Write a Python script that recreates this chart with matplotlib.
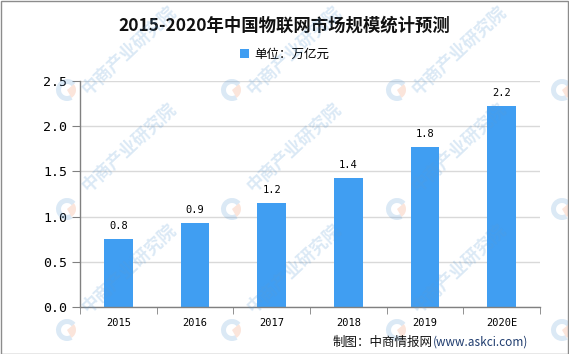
import matplotlib
matplotlib.use("Agg")
import matplotlib.pyplot as plt
from matplotlib.patches import Wedge, Rectangle

plt.rcParams['font.family'] = ['Noto Sans CJK SC', 'DejaVu Sans']

categories = ['2015', '2016', '2017', '2018', '2019', '2020E']
values = [0.75, 0.93, 1.15, 1.43, 1.77, 2.22]
labels = ['0.8', '0.9', '1.2', '1.4', '1.8', '2.2']
yticks = [0.0, 0.5, 1.0, 1.5, 2.0, 2.5]

title = '2015-2020年中国物联网市场规模统计预测'
legend_label = '单位：万亿元'
source_cn = '制图：中商情报网'
source_url = '(www.askci.com)'
watermark = '中商产业研究院'

W, H = 569, 354
fig = plt.figure(figsize=(W / 100, H / 100), dpi=100)
fig.patch.set_facecolor('white')

ax = fig.add_axes([80 / W, (H - 307) / H, (540 - 80) / W, (307 - 81) / H])
x = list(range(len(categories)))
bar_color = '#409EF2'
ax.bar(x, values, width=0.375, color=bar_color, zorder=3, label=legend_label)
ax.set_xlim(-0.5, len(categories) - 0.5)
ax.set_ylim(0, 2.5)
ax.set_yticks(yticks)
ax.set_yticklabels([f'{v:.1f}' for v in yticks], family='DejaVu Sans Mono', fontsize=9.5)
ax.set_xticks(x)
ax.set_xticklabels(categories, family='DejaVu Sans Mono', fontsize=7.5)
ax.set_xticks([i - 0.5 for i in range(len(categories) + 1)], minor=True)
ax.tick_params(axis='x', which='major', length=0, pad=8)
ax.tick_params(axis='x', which='minor', length=5, color='#808080', direction='out')
ax.tick_params(axis='y', length=6, color='#808080', pad=3)
ax.yaxis.grid(True, color='#d9d9d9', linewidth=1, zorder=0)
ax.set_axisbelow(True)
for s in ['top', 'right']:
    ax.spines[s].set_visible(False)
for s in ['left', 'bottom']:
    ax.spines[s].set_color('#808080')
    ax.spines[s].set_linewidth(1)
    ax.spines[s].set_zorder(4)

for xi, v, lab in zip(x, values, labels):
    ax.annotate(lab, (xi, v), xytext=(0, 9.4), textcoords='offset points',
                ha='center', va='center', family='DejaVu Sans Mono', fontsize=7.5)

fig.text(0.5, 1 - 26 / H, title, ha='center', va='center', fontsize=12.5,
         fontweight='bold', color='#111111')

leg = fig.legend(loc='center', bbox_to_anchor=(0.5, 1 - 54 / H), frameon=False,
                 fontsize=9, handlelength=0.75, handleheight=0.75, handletextpad=0.4)

# overlay in pixel coordinates for decorations
ov = fig.add_axes([0, 0, 1, 1], zorder=10)
ov.set_xlim(0, W)
ov.set_ylim(H, 0)
ov.axis('off')
ov.patch.set_alpha(0)

ov.text(528, 342, source_url, ha='right', va='center', fontsize=8.5, color='#1f3c6e')
fig.canvas.draw()
r = fig.canvas.get_renderer()
url_t = ov.texts[-1]
bb = url_t.get_window_extent(r)
ov.text(bb.x0, 342, source_cn, ha='right', va='center', fontsize=9, color='#111111')

wm_alpha = 0.22
for lx in [67, 232, 397, 562]:
    for ly in [90, 209, 330]:
        ov.add_patch(Wedge((lx, ly), 11, 60, 320, width=5, color='#5b9bd5', alpha=wm_alpha, lw=0))
        ov.add_patch(Wedge((lx, ly), 9, -40, 60, color='#f08a5d', alpha=wm_alpha, lw=0))
        if lx < 500:
            ty = max(ly - 62, 50)
            ov.text(lx + 62, ty, watermark, rotation=43, ha='center', va='center',
                    fontsize=12.5, color='#5b9bd5', alpha=wm_alpha, fontweight='bold')

ov.add_patch(Rectangle((0.5, 0.5), W - 1, H - 1, fill=False, edgecolor='#8c8c8c', lw=1))

fig.savefig('out.png', dpi=100, facecolor='white')
